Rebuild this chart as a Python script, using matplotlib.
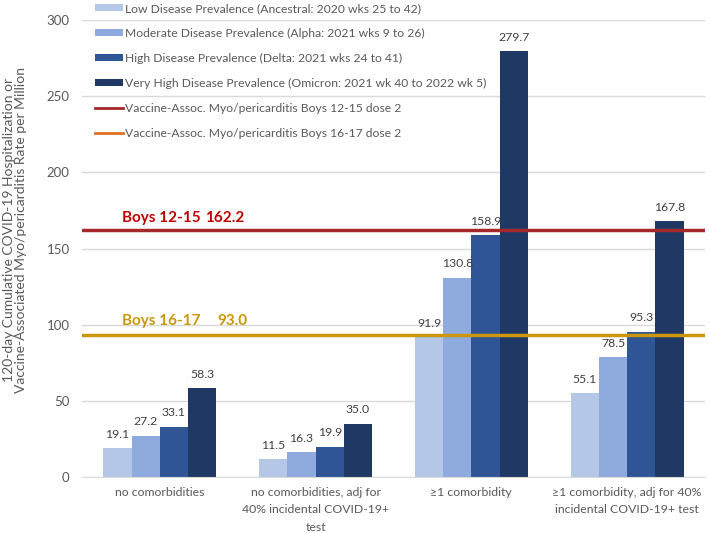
import matplotlib.pyplot as plt
from matplotlib.lines import Line2D
import numpy as np

categories = ["no comorbidities",
              "no comorbidities, adj for\n40% incidental COVID-19+\ntest",
              "\u22651 comorbidity",
              "\u22651 comorbidity, adj for 40%\nincidental COVID-19+ test"]
series_names = ["Low Disease Prevalence (Ancestral: 2020 wks 25 to 42)",
                "Moderate Disease Prevalence (Alpha: 2021 wks 9 to 26)",
                "High Disease Prevalence (Delta: 2021 wks 24 to 41)",
                "Very High Disease Prevalence (Omicron: 2021 wk 40 to 2022 wk 5)"]
low = [19.1, 11.5, 91.9, 55.1]
moderate = [27.2, 16.3, 130.8, 78.5]
high = [33.1, 19.9, 158.9, 95.3]
very_high = [58.3, 35.0, 279.7, 167.8]
boys_12_15 = 162.2
boys_16_17 = 93.0

colors = ["#B4C7E7", "#8FAADC", "#2F5597", "#203864"]
grey = "#595959"

plt.rcParams['font.family'] = ['Lato', 'DejaVu Sans']

fig = plt.figure(figsize=(7.09, 5.33), dpi=100)
ax = fig.add_axes([82 / 709, 56 / 533, 623 / 709, 457 / 533])

x = np.arange(len(categories))
width = 0.181
values = [low, moderate, high, very_high]
handles = []
for i, (vals, c, name) in enumerate(zip(values, colors, series_names)):
    bars = ax.bar(x + (i - 1.5) * width, vals, width, color=c, label=name, zorder=2)
    ax.bar_label(bars, labels=[f"{v:.1f}" for v in vals], padding=6,
                 fontsize=8.8, color="#404040")
    handles.append(bars)

ax.axhline(boys_12_15, color="#A5282A", lw=2.5, zorder=3)
ax.axhline(boys_16_17, color="#C9960C", lw=2.5, zorder=3)

bold = dict(fontsize=11, fontweight="bold", va="baseline")
ax.text(-0.243, boys_12_15 + 5.5, "Boys 12-15", color="#C00000", **bold)
ax.text(0.29, boys_12_15 + 5.5, "162.2", color="#C00000", **bold)
ax.text(-0.243, boys_16_17 + 6.5, "Boys 16-17", color="#C9960C", **bold)
ax.text(0.37, boys_16_17 + 6.5, "93.0", color="#C9960C", **bold)

ax.set_xlim(-0.5, 3.5)
ax.set_ylim(0, 300)
ax.set_yticks(range(0, 301, 50))
ax.yaxis.grid(True, color="#D9D9D9", lw=1, zorder=0)
ax.set_axisbelow(True)
for s in ["top", "right", "left"]:
    ax.spines[s].set_visible(False)
ax.spines["bottom"].set_color("#D9D9D9")
ax.tick_params(axis="both", length=0, colors=grey)
ax.tick_params(axis="y", pad=9, labelsize=9.5)
ax.tick_params(axis="x", pad=7, labelsize=8.8)
ax.set_xticks(x)
ax.set_xticklabels(categories, linespacing=1.75)

fig.text(15 / 709, 1 - 230 / 533,
         "120-day Cumulative COVID-19 Hospitalization or\nVaccine-Associated Myo/pericarditis Rate per Million",
         rotation=90, ha="center", va="center", fontsize=10, color=grey,
         linespacing=1.05, multialignment="center")

# the 16-17 legend key is orange in the original even though the line is gold
leg_handles = handles + [Line2D([], [], color="#A5282A", lw=2),
                         Line2D([], [], color="#E07020", lw=2)]
leg_labels = series_names + ["Vaccine-Assoc. Myo/pericarditis Boys 12-15 dose 2",
                             "Vaccine-Assoc. Myo/pericarditis Boys 16-17 dose 2"]
fig.legend(leg_handles, leg_labels, loc="upper left",
           bbox_to_anchor=(95 / 709, 1 - 3 / 533),
           frameon=False, fontsize=8.7, labelcolor=grey, labelspacing=1.15,
           handlelength=2.3, handleheight=0.55, handletextpad=0.2,
           borderpad=0, borderaxespad=0)

fig.savefig("out.png", dpi=100)
